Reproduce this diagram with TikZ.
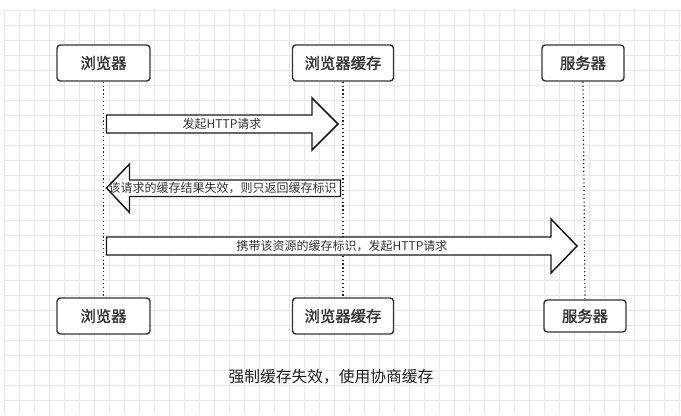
\documentclass[tikz,border=0pt]{standalone}
\usepackage{fontspec}
\newfontfamily\cjk{Noto Sans CJK SC}
\newfontfamily\cjkbox{Noto Sans CJK SC}[FakeBold=1.6]
\usetikzlibrary{positioning}

\begin{document}
\begin{tikzpicture}[
    x=0.75pt, y=-0.75pt,
    gridline/.style={draw=black!9, line width=0.5pt},
    box/.style={draw=black!80, line width=1.1pt, rounded corners=2.5pt, fill=white,
        minimum height=27pt, inner sep=0pt, text=black!80,
        font=\cjkbox\fontsize{11.5}{12}\selectfont},
    life/.style={black!85, line width=0.9pt, dotted},
    blk/.style={draw=black!90, line width=1.1pt, fill=white, line join=miter},
    lbl/.style={inner sep=0pt, text=black!80, font=\cjk\fontsize{9}{10}\selectfont}
]
\useasboundingbox (0,0) rectangle (681,415);
% light background grid
\foreach \gx in {4,19,...,679} \draw[gridline] (\gx,10) -- (\gx,415);
\foreach \gy in {10,25,...,414} \draw[gridline] (4,\gy) -- (681,\gy);
% participants, top row and bottom row
\node[box, minimum width=69.75pt] (brTop)  at (103.5,63) {浏览器};
\node[box, minimum width=75.75pt] (chTop)  at (343,63)   {浏览器缓存};
\node[box, minimum width=61.5pt]  (svTop)  at (583,63)   {服务器};
\node[box, minimum width=69.75pt] (brBot)  at (103.5,316) {浏览器};
\node[box, minimum width=75.75pt] (chBot)  at (343,316)   {浏览器缓存};
\node[box, minimum width=61.5pt, minimum height=24pt] (svBot) at (585,316) {服务器};
% dotted lifelines
\draw[life] (brTop.south) -- (brBot.north);
\draw[life] (chTop.south) -- (chBot.north);
\draw[life] (svTop.south) -- (svBot.north);
% block arrows for the three messages
\draw[blk] (106.5,115) -- (312,115) -- (312,98) -- (338,124) -- (312,150)
    -- (312,133) -- (106.5,133) -- cycle;
\draw[blk] (340.5,180) -- (129.5,180) -- (129.5,164) -- (106.5,188) -- (129.5,212.5)
    -- (129.5,196.5) -- (340.5,196.5) -- cycle;
\draw[blk] (106.5,237) -- (551,237) -- (551,219) -- (577,246) -- (551,273)
    -- (551,255) -- (106.5,255) -- cycle;
\node[lbl] (msgA) at (222,124)   {发起HTTP请求};
\node[lbl] (msgB) at (222.5,188) {该请求的缓存结果失效，则只返回缓存标识};
\node[lbl] (msgC) at (342,246)   {携带该资源的缓存标识，发起HTTP请求};
% caption
\node[inner sep=0pt, text=black!88, font=\cjk\fontsize{11.8}{13}\selectfont]
    (caption) at (331,377) {强制缓存失效，使用协商缓存};
\end{tikzpicture}
\end{document}
